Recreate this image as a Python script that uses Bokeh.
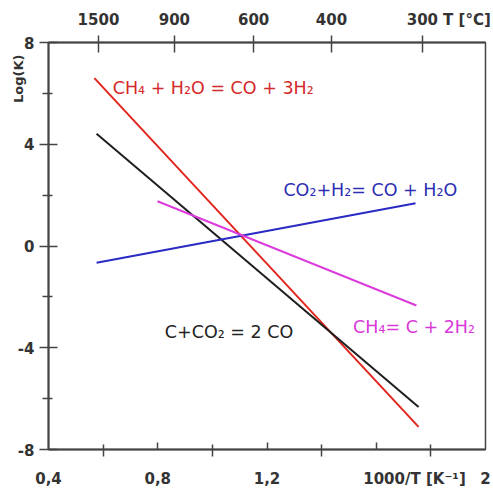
from bokeh.plotting import figure
from bokeh.models import Range1d, LinearAxis, FixedTicker, Label, Title
from bokeh.embed import file_html
from bokeh.resources import INLINE

# ---- data ----
red_x = [0.568, 1.755]
red_y = [6.60, -7.11]
black_x = [0.576, 1.755]
black_y = [4.41, -6.33]
blue_x = [0.576, 1.744]
blue_y = [-0.66, 1.68]
magenta_x = [0.799, 1.747]
magenta_y = [1.76, -2.34]

x_long_ticks = [0.8, 1.2, 1.6]
x_short_ticks = [0.6, 1.0, 1.4, 1.8]
x_label_pos = [0.4, 0.8, 1.2, 1.74, 2.0]
x_labels = ["0,4", "0,8", "1,2", "1000/T [K⁻¹]", "2"]
y_major = [-8, -4, 0, 4, 8]
y_minor = [-6, -2, 2, 6]
y_labels = ["-8", "-4", "0", "4", "8"]
temp_pos = [0.583, 0.861, 1.151, 1.436, 1.769]
temp_labels = ["1500", "900", "600", "400", "300"]
top_label_pos = temp_pos + [1.932]
top_labels = temp_labels + ["T [°C]"]
y_title = "Log(K)"

FONT = "DejaVu Sans"
AX = "#444444"
TXT = "#333333"

p = figure(width=493, height=490, output_backend="svg", toolbar_location=None,
           x_range=Range1d(0.4, 2.0), y_range=Range1d(-8, 8),
           min_border_left=48, min_border_right=8, min_border_top=42, min_border_bottom=40)
p.title.visible = False
p.grid.visible = False
p.outline_line_color = AX
p.outline_line_width = 1.5
p.background_fill_color = "white"


def style_axis(a, tin, tout, standoff):
    a.axis_line_color = AX
    a.axis_line_width = 2
    a.major_tick_line_color = AX
    a.minor_tick_line_color = AX
    a.major_tick_line_width = 1.5
    a.minor_tick_line_width = 1.5
    a.major_tick_in = tin
    a.major_tick_out = tout
    a.major_label_standoff = standoff
    a.major_label_text_font = FONT
    a.major_label_text_font_style = "bold"
    a.major_label_text_font_size = "15px"
    a.major_label_text_color = TXT


# bottom axis: labels on (invisible) major ticks, short marks as minor ticks
xa = p.xaxis[0]
xa.ticker = FixedTicker(ticks=x_label_pos, minor_ticks=x_short_ticks)
xa.major_label_overrides = {v: s for v, s in zip(x_label_pos, x_labels)}
style_axis(xa, 0, 11, 9)
xa.major_tick_line_color = None
xa.minor_tick_in = 5
xa.minor_tick_out = 7

# long bottom marks, drawn on the same axis line
xb = LinearAxis(ticker=FixedTicker(ticks=[], minor_ticks=x_long_ticks), fixed_location=-8)
xb.axis_line_color = None
xb.major_tick_line_color = None
xb.major_tick_in = 0
xb.major_tick_out = 0
xb.minor_tick_line_color = AX
xb.minor_tick_line_width = 1.5
xb.minor_tick_in = 7
xb.minor_tick_out = 12
p.add_layout(xb, "below")

# left axis
ya = p.yaxis[0]
ya.ticker = FixedTicker(ticks=y_major, minor_ticks=y_minor)
ya.major_label_overrides = {v: s for v, s in zip(y_major, y_labels)}
style_axis(ya, 9, 9, 5)
ya.minor_tick_in = 4
ya.minor_tick_out = 6

p.add_layout(Title(text=y_title, align="right", offset=12, standoff=-22,
                   text_font=FONT, text_font_size="13px", text_font_style="bold",
                   text_color=TXT), "left")

# top axis (temperature): visible marks are the minor ticks, labels on major ticks
ta = LinearAxis(ticker=FixedTicker(ticks=top_label_pos, minor_ticks=temp_pos))
ta.major_label_overrides = {v: s for v, s in zip(top_label_pos, top_labels)}
style_axis(ta, 10, 7, 7)
ta.major_tick_line_color = None
ta.minor_tick_in = 10
ta.minor_tick_out = 7
p.add_layout(ta, "above")

# lines
p.line(red_x, red_y, line_color="#e2261f", line_width=2)
p.line(black_x, black_y, line_color="#1e1e1e", line_width=2)
p.line(blue_x, blue_y, line_color="#2a2ac4", line_width=2)
p.line(magenta_x, magenta_y, line_color="#dc3cdc", line_width=2)


def lab(x, y, text, color):
    p.add_layout(Label(x=x, y=y, text=text, text_color=color, text_font=FONT,
                       text_font_size="17.5px", text_align="left", text_baseline="middle"))


lab(0.635, 6.2, "CH₄ + H₂O = CO + 3H₂", "#d42a2a")
lab(1.26, 2.2, "CO₂+H₂= CO + H₂O", "#2e2eb4")
lab(0.826, -3.37, "C+CO₂ = 2 CO", "#222222")
lab(1.515, -3.2, "CH₄= C + 2H₂", "#d838d8")

open("out.html", "w").write(file_html(p, INLINE))
